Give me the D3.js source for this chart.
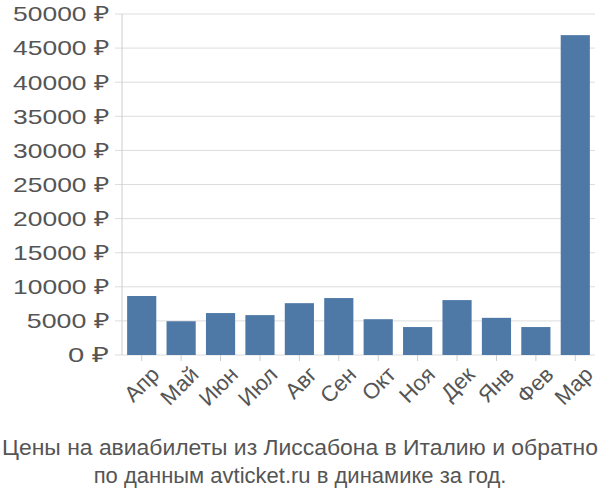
<!DOCTYPE html>
<html><head><meta charset="utf-8">
<script src="https://cdn.jsdelivr.net/npm/d3@7"></script>
<style>body{margin:0;background:#fff}text{font-family:"Liberation Sans",Arial,sans-serif}</style>
</head><body><svg id="c" width="600" height="500"></svg>
<script>
const categories=["Апр","Май","Июн","Июл","Авг","Сен","Окт","Ноя","Дек","Янв","Фев","Мар"];
const values=[8650,4950,6150,5850,7600,8350,5250,4100,8050,5450,4100,46900];
const yTicks=[0,5000,10000,15000,20000,25000,30000,35000,40000,45000,50000];
const svg=d3.select("#c");
const L=122,R=595,T=14,B=355;
const x=d3.scaleBand().domain(categories).range([L,R]).paddingInner(0.26).paddingOuter(0.13);
const y=d3.scaleLinear().domain([0,50000]).range([B,T]);
const g=svg.append("g");
yTicks.forEach(t=>{
 g.append("line").attr("x1",L-7).attr("x2",R).attr("y1",y(t)).attr("y2",y(t)).attr("stroke","#ddd");
 g.append("text").attr("x",L-13).attr("y",y(t)).attr("dy","0.35em").attr("text-anchor","end").attr("font-size",21).attr("fill","#555")
  .attr("textLength",(String(t).length+2)*13.7).attr("lengthAdjust","spacingAndGlyphs").text(t+" ₽");
});
g.append("line").attr("x1",L).attr("x2",L).attr("y1",T).attr("y2",B).attr("stroke","#ccc");
g.selectAll("rect").data(values).enter().append("rect")
 .attr("x",(d,i)=>x(categories[i])).attr("width",x.bandwidth())
 .attr("y",d=>y(d)).attr("height",d=>B-y(d)).attr("fill","#4e79a7");
categories.forEach(c=>{
 const cx=x(c)+x.bandwidth()/2;
 g.append("line").attr("x1",cx).attr("x2",cx).attr("y1",B).attr("y2",B+6).attr("stroke","#ccc");
 g.append("text").attr("transform",`translate(${cx+8},${B+10}) rotate(-45)`).attr("text-anchor","end").attr("dy","0.7em").attr("font-size",22).attr("fill","#555").text(c);
});
svg.append("text").attr("x",300).attr("y",455).attr("text-anchor","middle").attr("font-size",22).attr("fill","#555").attr("textLength",596).attr("lengthAdjust","spacingAndGlyphs").text("Цены на авиабилеты из Лиссабона в Италию и обратно");
svg.append("text").attr("x",300).attr("y",483).attr("text-anchor","middle").attr("font-size",22).attr("fill","#555").text("по данным avticket.ru в динамике за год.");
</script></body></html>
